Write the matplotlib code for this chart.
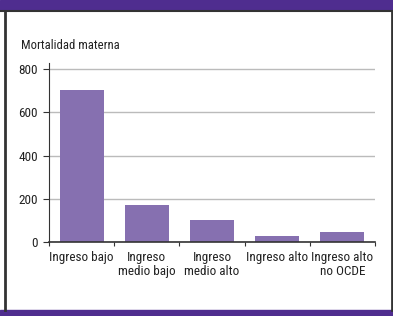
import matplotlib
matplotlib.use('Agg')
import matplotlib.pyplot as plt
from matplotlib.patches import Rectangle
from matplotlib.lines import Line2D

# datos
categorias = ['Ingreso bajo', 'Ingreso\nmedio bajo', 'Ingreso\nmedio alto',
              'Ingreso alto', 'Ingreso alto\nno OCDE']
mortalidad = [703, 170, 101, 28, 46]
yticks = [0, 200, 400, 600, 800]
titulo = 'Mortalidad materna'

plt.rcParams['font.family'] = ['Roboto Condensed', 'DejaVu Sans']

W, H = 393, 316
fig = plt.figure(figsize=(W / 100, H / 100), dpi=100)

# marco morado
morado = '#4f2d8f'
fig.patches.append(Rectangle((0, 1 - 10 / H), 1, 10 / H, transform=fig.transFigure,
                             color=morado, zorder=0))
fig.patches.append(Rectangle((0, 0), 1, 6 / H, transform=fig.transFigure,
                             color=morado, zorder=0))
fig.lines.append(Line2D([0, 1], [1 - 11 / H, 1 - 11 / H], transform=fig.transFigure,
                        color='#333333', lw=1.5))
fig.lines.append(Line2D([4.5 / W, 4.5 / W], [6 / H, 1 - 11 / H], transform=fig.transFigure,
                        color='#333333', lw=2))
fig.lines.append(Line2D([1 - 1 / W, 1 - 1 / W], [6 / H, 1 - 11 / H], transform=fig.transFigure,
                        color='#333333', lw=2))

ax = fig.add_axes([49 / W, 73.7 / H, (375 - 49) / W, (242.3 - 62.6) / H])
x = range(len(categorias))
ax.bar(x, mortalidad, width=0.675, color='#8670b0', zorder=2)

ax.set_xlim(-0.5, len(categorias) - 0.5)
ax.set_ylim(0, 830)
ax.set_yticks(yticks)
ax.yaxis.grid(True, color='#bbbbbb', lw=1)
ax.set_axisbelow(True)

ax.set_xticks([i - 0.5 for i in range(len(categorias) + 1)])
ax.set_xticklabels([])
ax.set_xticks(list(x), minor=True)
ax.set_xticklabels(categorias, minor=True, fontsize=9.5, color='#222222',
                   linespacing=1.1)
ax.tick_params(axis='x', which='minor', length=0, pad=6)
ax.tick_params(axis='x', which='major', length=3, color='#333333')
ax.tick_params(axis='y', length=4, pad=4, labelsize=9.5, labelcolor='#222222',
               color='#333333')

for s in ['top', 'right']:
    ax.spines[s].set_visible(False)
ax.spines['left'].set_color('#333333')
ax.spines['bottom'].set_color('#333333')
ax.spines['bottom'].set_linewidth(1.2)

fig.text(21 / W, 1 - 45.5 / H, titulo, fontsize=9.1, color='#222222', va='center')

fig.savefig('out.png', dpi=100)
